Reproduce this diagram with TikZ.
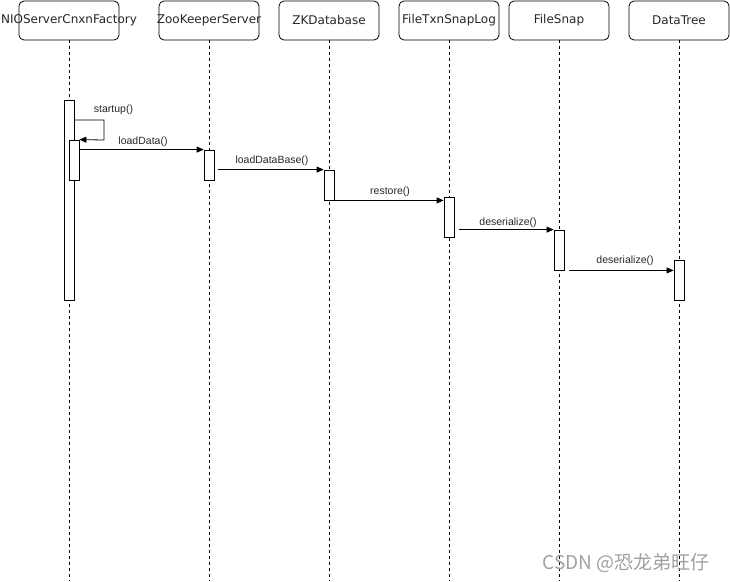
\documentclass[tikz,border=0pt]{standalone}
\usepackage{fontspec}
\setmainfont{Liberation Sans}
\newfontfamily\hdrfont{DejaVu Sans}
\newfontfamily\cjkfont{Noto Sans CJK SC}
\usetikzlibrary{arrows.meta}
\definecolor{wm}{RGB}{160,160,160}
\tikzset{
  hdr/.style={draw, rounded corners=5pt, minimum width=100pt, minimum height=39pt, inner sep=0pt, line width=0.8pt},
  hdrtxt/.style={inner sep=0pt, font=\hdrfont\fontsize{12}{14}\selectfont, text=black!85},
  life/.style={draw, dash pattern=on 3pt off 3pt, line width=0.8pt},
  act/.style={draw, fill=white, minimum width=10pt, inner sep=0pt, line width=0.8pt},
  msg/.style={draw, line width=0.8pt, -{Triangle[length=7pt,width=6pt]}},
  lbl/.style={font=\fontsize{10.5}{12}\selectfont, inner sep=0pt, text=black!85}
}
\begin{document}
\begin{tikzpicture}[x=1pt,y=-1pt]
\useasboundingbox (0,0) rectangle (730,581);
% headers
\node[hdr] (nio) at (69,20.5) {};
\node[hdr] (zk) at (209,20.5) {};
\node[hdr] (db) at (329,20.5) {};
\node[hdr] (ftl) at (449,20.5) {};
\node[hdr] (fs) at (559,20.5) {};
\node[hdr] (dt) at (679,20.5) {};
\node[hdrtxt] (nioT) at (nio.center) {NIOServerCnxnFactory};
\node[hdrtxt] (zkT) at (zk.center) {ZooKeeperServer};
\node[hdrtxt] (dbT) at (db.center) {ZKDatabase};
\node[hdrtxt] (ftlT) at (ftl.center) {FileTxnSnapLog};
\node[hdrtxt] (fsT) at (fs.center) {FileSnap};
\node[hdrtxt] (dtT) at (dt.center) {DataTree};
% lifeline ends
\coordinate (nioE) at (69,581);
\coordinate (zkE) at (209,581);
\coordinate (dbE) at (329,581);
\coordinate (ftlE) at (449,581);
\coordinate (fsE) at (559,581);
\coordinate (dtE) at (679,581);
\draw[life] (nio.south) -- (nioE);
\draw[life] (zk.south) -- (zkE);
\draw[life] (db.south) -- (dbE);
\draw[life] (ftl.south) -- (ftlE);
\draw[life] (fs.south) -- (fsE);
\draw[life] (dt.south) -- (dtE);
% activations
\node[act, minimum height=200pt] (aNio) at (69,200) {};
\node[act, minimum height=40pt] (aNio2) at (74,160) {};
\node[act, minimum height=30pt] (aZk) at (209,165) {};
\node[act, minimum height=30pt] (aDb) at (329,185) {};
\node[act, minimum height=40pt] (aFtl) at (449,217) {};
\node[act, minimum height=40pt] (aFs) at (559,250) {};
\node[act, minimum height=40pt] (aDt) at (679,280) {};
% messages
\coordinate (selfA) at (104,120);
\coordinate (selfB) at (104,140);
\draw[msg] (aNio.east |- selfA) -- (selfA) -- (selfB) -- (aNio2.north east);
\node[lbl] (lStart) at (113.5,110) {startup()};
\draw[msg] (aNio2.east |- aZk.north) -- (aZk.north west);
\node[lbl] (lLoad) at (143,142) {loadData()};
\coordinate (ldbS) at ([xshift=4pt]aZk.east |- aDb.north);
\draw[msg] (ldbS) -- (aDb.north west);
\node[lbl] (lLdb) at (272,161) {loadDataBase()};
\draw[msg] (aDb.south east) -- (aFtl.west |- aDb.south);
\node[lbl] (lRes) at (390,192) {restore()};
\coordinate (des1S) at ([xshift=5pt]aFtl.east |- aFs.north);
\draw[msg] (des1S) -- (aFs.north west);
\node[lbl] (lDes1) at (508,223) {deserialize()};
\coordinate (des2S) at ([xshift=5pt]aFs.south east);
\draw[msg] (des2S) -- (aDt.west |- aFs.south);
\node[lbl] (lDes2) at (625,261) {deserialize()};
% watermark
\node[font=\cjkfont\fontsize{19}{21}\selectfont, text=wm, inner sep=0pt] (wmk) at (626,563) {CSDN @恐龙弟旺仔};
\end{tikzpicture}
\end{document}
